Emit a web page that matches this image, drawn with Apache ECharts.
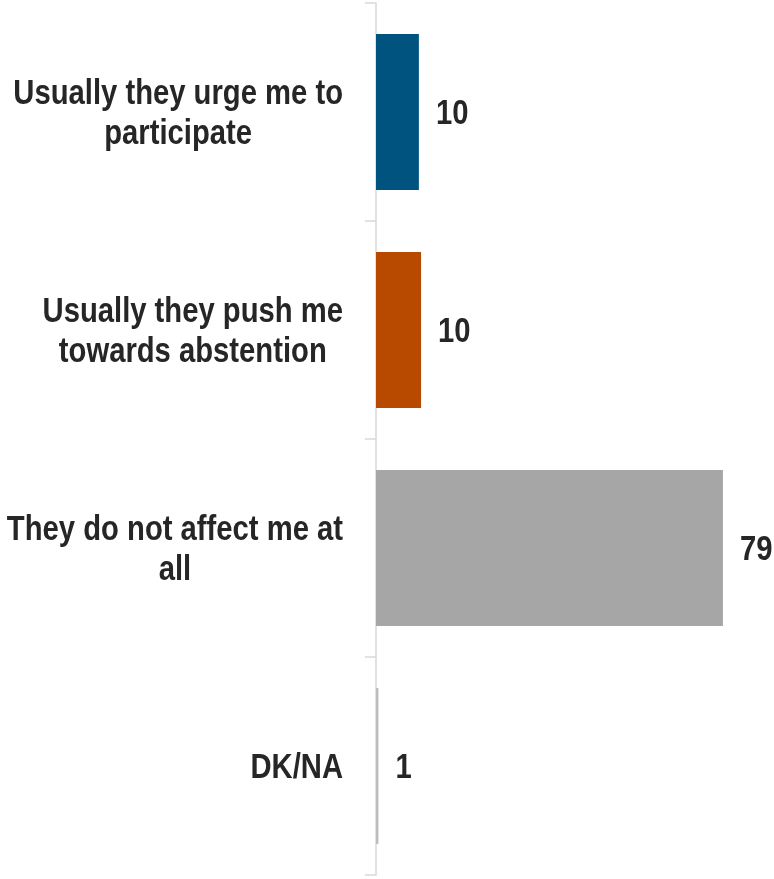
<!DOCTYPE html>
<html>
<head>
<meta charset="utf-8">
<script src="https://cdn.jsdelivr.net/npm/echarts@6/dist/echarts.min.js"></script>
<style>
html,body{margin:0;padding:0;background:#fff;}
#main{width:774px;height:879px;}
</style>
</head>
<body>
<div id="main"></div>
<script>
const categories = [
  "Usually they urge me to\nparticipate",
  "Usually they push me\ntowards abstention",
  "They do not affect me at\nall",
  "DK/NA"
];
const values = [9.8, 10.3, 79.3, 0.55];
const valueLabels = ["10", "10", "79", "1"];
const barColors = ["#00537f", "#b84a00", "#a6a6a6", "#bdbdbd"];

const FONT = '"Liberation Sans", Arial, sans-serif';
const FS = 35;
const NARROW = 0.835;

const chart = echarts.init(document.getElementById('main'));
chart.setOption({
  animation: false,
  backgroundColor: '#ffffff',
  grid: { left: 376, top: 3, width: 350, height: 872, containLabel: false, outerBoundsMode: 'none' },
  xAxis: { type: 'value', min: 0, max: 80, show: false },
  yAxis: {
    type: 'category',
    data: categories,
    inverse: true,
    axisLine: { show: true, lineStyle: { color: '#d9d9d9', width: 1.5 } },
    axisTick: { show: true, length: 11, lineStyle: { color: '#d9d9d9', width: 1.5 } },
    axisLabel: { show: false }
  },
  series: [{
    type: 'bar',
    data: values.map(function (v, i) {
      return { value: v, itemStyle: { color: barColors[i] } };
    }),
    barCategoryGap: '28.4%'
  }, {
    // category labels (narrow bold text), placed via the axes
    type: 'custom',
    silent: true,
    clip: false,
    data: categories.map(function (c, i) { return [0, i]; }),
    encode: { x: 0, y: 1 },
    renderItem: function (params, api) {
      var i = params.dataIndex;
      var pt = api.coord([0, i]);
      var txt = categories[i].split('\n').map(function (l) { return '{c|' + l + '}'; }).join('\n');
      return {
        type: 'text',
        x: pt[0] - 33,
        y: pt[1] + 2,
        scaleX: NARROW,
        style: {
          text: txt,
          align: 'right',
          verticalAlign: 'middle',
          rich: {
            c: {
              align: 'center',
              fontFamily: FONT, fontWeight: 'bold', fontSize: FS,
              lineHeight: 40, fill: '#262626'
            }
          }
        }
      };
    }
  }, {
    // value labels
    type: 'custom',
    silent: true,
    clip: false,
    data: values.map(function (v, i) { return [v, i]; }),
    encode: { x: 0, y: 1 },
    renderItem: function (params, api) {
      var i = params.dataIndex;
      var pt = api.coord([api.value(0), i]);
      return {
        type: 'text',
        x: pt[0] + 17,
        y: pt[1] + 2,
        scaleX: NARROW,
        style: {
          text: valueLabels[i],
          align: 'left',
          verticalAlign: 'middle',
          fontFamily: FONT, fontWeight: 'bold', fontSize: FS,
          fill: '#262626'
        }
      };
    }
  }]
});
</script>
</body>
</html>
